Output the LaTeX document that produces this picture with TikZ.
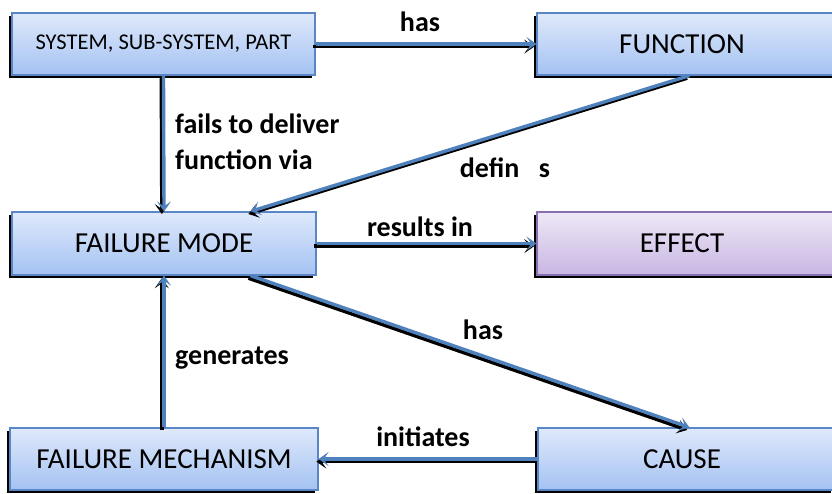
\documentclass[tikz,border=0pt]{standalone}
\usepackage{fontspec}
\setmainfont{Carlito}
\usetikzlibrary{arrows.meta,shadows,calc}
\definecolor{boxtop}{HTML}{DFE9FB}
\definecolor{boxbot}{HTML}{A4C2F2}
\definecolor{boxline}{HTML}{5A86C6}
\definecolor{ptop}{HTML}{EEE8F7}
\definecolor{pbot}{HTML}{C8B6E2}
\definecolor{pline}{HTML}{8A6FB0}
\definecolor{arrowblue}{HTML}{4F81BD}
\begin{document}
\begin{tikzpicture}[x=1pt,y=-1pt,
  box/.style={rectangle, draw=boxline, line width=1.2pt, top color=boxtop, bottom color=boxbot,
    drop shadow={shadow xshift=-3pt, shadow yshift=-3pt, opacity=1, fill=black},
    font=\fontsize{29}{33}\selectfont, inner sep=0pt},
  pbox/.style={box, draw=pline, top color=ptop, bottom color=pbot},
  tip/.style={-{Stealth[length=10pt,width=14pt,inset=5pt]}},
  conn/.style={draw=arrowblue, line width=3.4pt, tip,
    preaction={draw=black, line width=3.4pt, tip, transform canvas={xshift=-2.2pt,yshift=-2.6pt}}},
  lbl/.style={font=\bfseries\fontsize{28}{36}\selectfont, inner sep=0pt}]
\useasboundingbox (0,0) rectangle (832,493);
\fill[white] (0,0) rectangle (832,493);
% boxes
\node[box, minimum width=303pt, minimum height=62pt, font=\fontsize{22.5}{26}\selectfont] (sys) at (163.5,44) {SYSTEM, SUB-SYSTEM, PART};
\node[box, minimum width=298pt, minimum height=62pt] (func) at (686,44) {\hspace*{-4pt}FUNCTION\hspace*{4pt}};
\node[box, minimum width=304pt, minimum height=63pt] (fm) at (164,243.5) {FAILURE MODE};
\node[pbox, minimum width=298pt, minimum height=63pt] (eff) at (686,243.5) {\hspace*{-4pt}EFFECT\hspace*{4pt}};
\node[box, minimum width=308pt, minimum height=62pt] (mech) at (164,459) {FAILURE MECHANISM};
\node[box, minimum width=296pt, minimum height=62pt] (cause) at (686,459) {\hspace*{-4pt}CAUSE\hspace*{4pt}};
% connectors
\coordinate (fdef) at ($(func.south west)+(153,0)$);
\coordinate (fmdef) at ($(fm.north east)+(-66,0)$);
\coordinate (fmhas) at ($(fm.south east)+(-66,0)$);
\coordinate (chas) at ($(cause.north west)+(152,0)$);
\draw[conn] (sys.east) -- (func.west);
\draw[conn] (sys.south) -- (fm.north);
\draw[conn] (fdef) -- (fmdef);
\draw[conn] (fm.east) -- (eff.west);
\draw[conn] (fmhas) -- (chas);
\draw[conn] (mech.north) -- (fm.south);
\draw[conn] (cause.west) -- (mech.east);
% labels
\node[lbl] (l1) at (420,22) {has};
\node[lbl, anchor=west, align=left] (l2) at (175,142) {fails to deliver\\function via};
\node[lbl] (l3) at (505,168) {defin\hspace{0.7em}s};
\node[lbl] (l4) at (420,227) {results in};
\node[lbl] (l5) at (483,330) {has};
\node[lbl, anchor=west] (l6) at (175,358) {generates};
\node[lbl] (l7) at (423,437) {initiates};
\end{tikzpicture}
\end{document}
